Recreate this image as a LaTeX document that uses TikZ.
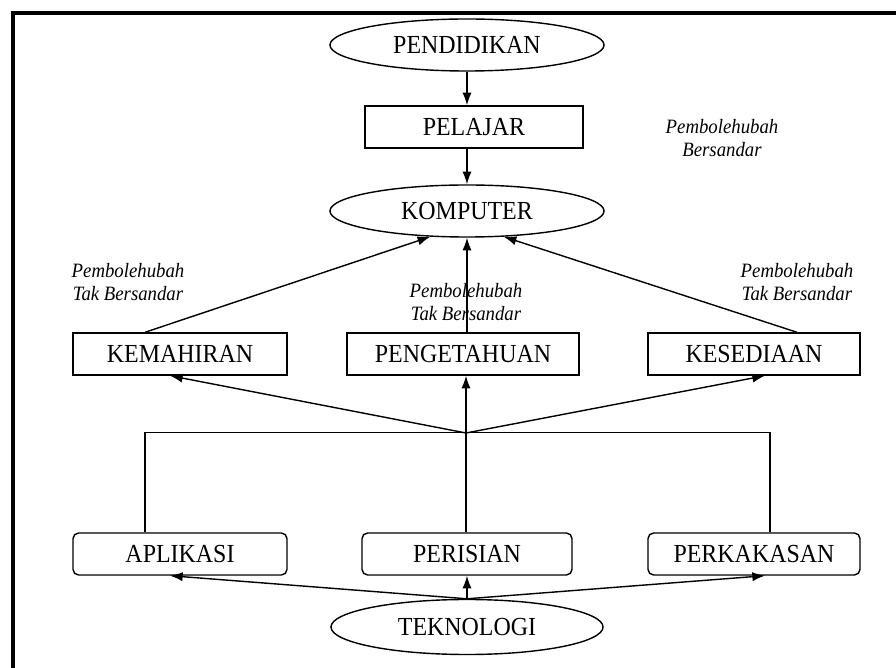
\documentclass[tikz,border=0pt]{standalone}
\usepackage{fontspec}
\setmainfont[FakeStretch=0.92]{Liberation Serif}
\usepackage{tikz}
\usetikzlibrary{arrows,arrows.meta,shapes.geometric,calc}
\tikzset{>={Latex[length=9pt,width=6.5pt]}}

\begin{document}
\begin{tikzpicture}[x=0.025cm, y=-0.025cm]
                % px grid, origin top left
                \tikzstyle{every node}=[font=\fontsize{18.5}{22}\selectfont, inner sep=0pt]
                \tikzstyle{oval}=[ellipse, draw=black, line width=1pt, minimum width=6.85cm, minimum height=1.3cm]
                \tikzstyle{box}=[rectangle, draw=black, line width=1pt, minimum height=1.05cm]
                \tikzstyle{rbox}=[box, rounded corners=4pt]
                \tikzstyle{note}=[font=\fontsize{14.5}{16.5}\selectfont\itshape, align=center]
                \tikzstyle{link}=[->, black, line width=1pt]
                \useasboundingbox (0,0) rectangle (896,668);
                \draw[line width=3pt] (13,668) -- (13,13) -- (896,13);
                \node[oval] (Pend) at (467, 45) {PENDIDIKAN};
                \node[box, minimum width=5.45cm] (Pel) at (474, 127) {PELAJAR};
                \node[oval] (Komp) at (467, 211) {KOMPUTER};
                \node[box, minimum width=5.35cm] (Kem) at (180, 354) {KEMAHIRAN};
                \node[box, minimum width=5.8cm] (Peng) at (463, 354) {PENGETAHUAN};
                \node[box, minimum width=5.3cm] (Kes) at (754, 354) {KESEDIAAN};
                \node[rbox, minimum width=5.35cm] (Apl) at (180, 554) {APLIKASI};
                \node[rbox, minimum width=5.25cm] (Peri) at (467, 554) {PERISIAN};
                \node[rbox, minimum width=5.3cm] (Perk) at (754, 554) {PERKAKASAN};
                \node[oval, minimum width=6.8cm, minimum height=1.375cm] (Tek) at (467, 627) {TEKNOLOGI};
                \node[note] (N1) at (722, 138) {Pembolehubah\\Bersandar};
                \node[note] (N2) at (128, 282) {Pembolehubah\\Tak Bersandar};
                \node[note] (N3) at (466, 302) {Pembolehubah\\Tak Bersandar};
                \node[note] (N4) at (797, 282) {Pembolehubah\\Tak Bersandar};
                \draw[link] (Pend.south) -- (Pend.south |- Pel.north);
                \draw[link] (Pend.south |- Pel.south) -- (Komp.north);
                \draw[link] ($(Kem.north)+(-35,0)$) -- (Komp.-145);
                \draw[link] (Komp.south |- Peng.north) -- (Komp.south);
                \draw[link] ($(Kes.north)+(43,0)$) -- (Komp.-35);
                % junction bar
                \coordinate (Hub) at (466, 433);
                \coordinate (HubL) at ($(Apl.north)+(-35,-100)$);
                \coordinate (HubR) at ($(Perk.north)+(16,-100)$);
                \draw[line width=1pt] (HubL) -- (HubR);
                \draw[line width=1pt] (HubL) -- (HubL |- Apl.north);
                \draw[line width=1pt] (Hub) -- (Hub |- Peri.north);
                \draw[line width=1pt] (HubR) -- (HubR |- Perk.north);
                \draw[link] (Hub) -- ($(Kem.south)+(-10,0)$);
                \draw[link] (Hub) -- (Hub |- Peng.south);
                \draw[link] (Hub) -- ($(Kes.south)+(11,0)$);
                \draw[link] (Tek.north) -- ($(Apl.south)+(-10,0)$);
                \draw[link] (Tek.north) -- (Peri.south);
                \draw[link] (Tek.north) -- ($(Perk.south)+(11,0)$);
        \end{tikzpicture}
\end{document}
